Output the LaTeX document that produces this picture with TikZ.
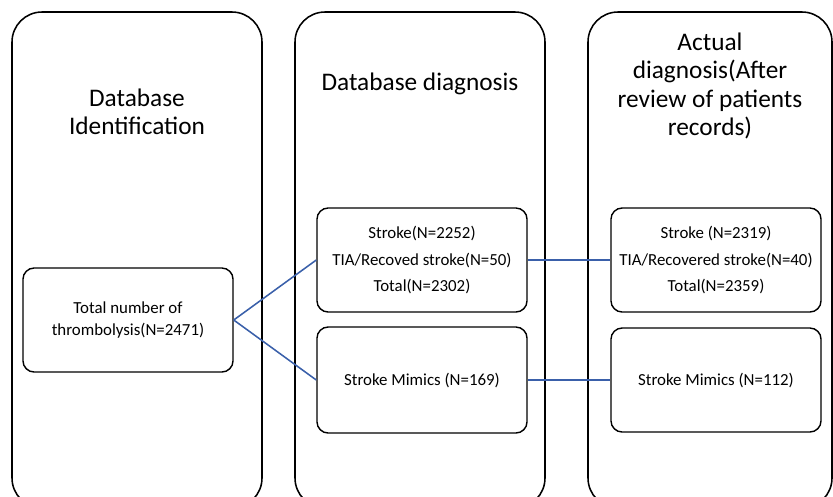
\documentclass[tikz,border=0pt]{standalone}
\usepackage{fontspec}
\setmainfont{Carlito}
\usetikzlibrary{positioning}

\begin{document}
\begin{tikzpicture}[
    x=0.025cm, y=-0.025cm,
    panel/.style={draw=black, line width=1.1pt, rounded corners=0.75cm},
    headline/.style={align=center, font=\fontsize{18}{20}\selectfont},
    box/.style={draw=black, line width=1pt, rounded corners=0.28cm, align=center,
      minimum width=5.25cm, minimum height=2.6cm, inner sep=2pt},
    lines3/.style={font=\fontsize{12}{19}\selectfont},
    link/.style={draw={rgb,255:red,58;green,96;blue,170}, line width=1.1pt}
  ]

    \useasboundingbox (0,0) rectangle (833,496);
    \clip (0,0) rectangle (833,496);

    % Three column panels (bottom edge runs out of the picture)
    \draw[panel] (12,12) rectangle (262,508);
    \draw[panel] (295,12) rectangle (545,508);
    \draw[panel] (588,12) rectangle (832,508);

    % Column headings
    \node[headline] (head1) at (137,112) {Database\\Identification};
    \node[headline] (head2) at (420,84) {Database diagnosis};
    \node[headline] (head3) at (710,86) {Actual\\diagnosis(After\\review of patients\\records)};

    % Boxes
    \node[box, font=\fontsize{12}{15.5}\selectfont] (total) at (128,320)
      {Total number of\\thrombolysis(N=2471)};
    \node[box, lines3] (dbstroke) at (422,260)
      {Stroke(N=2252)\\TIA/Recoved stroke(N=50)\\Total(N=2302)};
    \node[box, lines3, minimum height=2.65cm] (dbmimic) at (422,380)
      {Stroke Mimics (N=169)};
    \node[box, lines3] (actstroke) at (716,260)
      {Stroke (N=2319)\\TIA/Recovered stroke(N=40)\\Total(N=2359)};
    \node[box, lines3, minimum height=2.6cm] (actmimic) at (716,380)
      {Stroke Mimics (N=112)};

    % Connectors
    \draw[link] (total.east) -- (dbstroke.west);
    \draw[link] (total.east) -- (dbmimic.west);
    \draw[link] (dbstroke.east) -- (actstroke.west);
    \draw[link] (dbmimic.east) -- (actmimic.west);

  \end{tikzpicture}
\end{document}
